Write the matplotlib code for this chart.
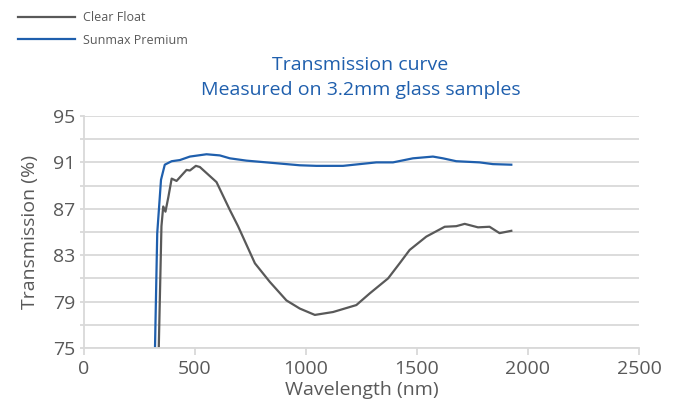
import numpy as np
import matplotlib.pyplot as plt
from matplotlib.lines import Line2D

# Sunmax Premium (blue)
sunmax_nm = [320, 330, 347, 364, 395, 432, 477, 552, 612, 657, 732, 882, 972,
             1047, 1167, 1317, 1392, 1482, 1572, 1617, 1677, 1782, 1842, 1925]
sunmax_t = [75.1, 84.9, 89.5, 90.8, 91.1, 91.2, 91.5, 91.7, 91.6, 91.35, 91.15,
            90.9, 90.75, 90.7, 90.7, 91.0, 91.0, 91.35, 91.5, 91.35, 91.1,
            91.0, 90.85, 90.8]

# Clear Float (grey)
clear_nm = [337, 349, 357, 367, 380, 395, 417, 462, 477, 504, 522, 597, 657,
            694, 770, 837, 912, 972, 1040, 1122, 1227, 1287, 1370, 1422, 1467,
            1542, 1625, 1677, 1715, 1775, 1827, 1872, 1925]
clear_t = [75.1, 85.5, 87.2, 86.75, 88.0, 89.6, 89.4, 90.35, 90.3, 90.7, 90.6,
           89.3, 86.9, 85.5, 82.3, 80.7, 79.1, 78.4, 77.85, 78.1, 78.7, 79.7,
           81.0, 82.3, 83.45, 84.6, 85.45, 85.5, 85.7, 85.4, 85.45, 84.9, 85.1]

x_ticks = [0, 500, 1000, 1500, 2000, 2500]
y_ticks = [75, 79, 83, 87, 91, 95]

grey = '#595959'
blue = '#1f5fad'
grid_c = '#d9d9d9'

plt.rcParams['font.family'] = ['Open Sans', 'DejaVu Sans']

fig = plt.figure(figsize=(6.74, 4.19), dpi=100)
ax = fig.add_axes([0.1246, 0.1695, 0.8234, 0.5537])

ax.plot(clear_nm, clear_t, color=grey, lw=1.6)
ax.plot(sunmax_nm, sunmax_t, color=blue, lw=1.6)

ax.set_xlim(0, 2500)
ax.set_ylim(75, 95)
ax.set_xticks(x_ticks)
ax.set_yticks(y_ticks)
ax.set_yticks(np.arange(75, 96, 2), minor=True)
ax.yaxis.grid(True, which='both', color=grid_c, lw=1.3)
ax.set_axisbelow(True)
for s in ['top', 'right']:
    ax.spines[s].set_visible(False)
for s in ['left', 'bottom']:
    ax.spines[s].set_color(grid_c)
    ax.spines[s].set_linewidth(1.3)
ax.tick_params(axis='x', which='both', colors=grid_c, labelcolor=grey,
               labelsize=14, length=5, width=1.3)
ax.tick_params(axis='y', which='both', colors=grid_c, labelcolor=grey,
               labelsize=14, length=3, width=1.3)

ax.set_xlabel('Wavelength (nm)', fontsize=14, color=grey, labelpad=2)
ax.set_ylabel('Transmission (%)', fontsize=14, color=grey, labelpad=10)

fig.text(0.535, 0.815, 'Transmission curve\nMeasured on 3.2mm glass samples',
         ha='center', va='center', fontsize=14, color=blue, linespacing=1.55)

handles = [Line2D([], [], color=grey, lw=1.6), Line2D([], [], color=blue, lw=1.6)]
fig.legend(handles, ['Clear Float', 'Sunmax Premium'], loc='upper left',
           bbox_to_anchor=(0.01, 1.0), frameon=False, fontsize=9,
           handlelength=4.6, handletextpad=0.6, labelspacing=0.75,
           labelcolor=grey)

fig.savefig('out.png', dpi=100)
